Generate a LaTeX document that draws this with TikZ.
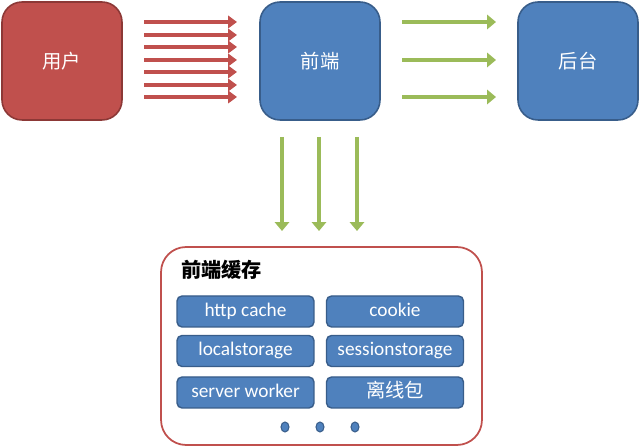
\documentclass[tikz,border=0pt]{standalone}
\usepackage{fontspec}
\setmainfont{Carlito}
\newfontfamily\cjk{Noto Sans CJK SC}
\usetikzlibrary{arrows.meta}
\usetikzlibrary{shapes.geometric}

\definecolor{boxred}{RGB}{192,80,77}
\definecolor{linered}{RGB}{140,56,54}
\definecolor{boxblue}{RGB}{79,129,189}
\definecolor{lineblue}{RGB}{56,93,138}
\definecolor{arrowgreen}{RGB}{155,187,89}

\tikzset{
  bigbox/.style={draw, line width=0.9pt, rounded corners=0.4cm, minimum width=2.4cm, minimum height=2.36cm, text=white, font=\cjk\fontsize{11}{13}\selectfont},
  cachebox/.style={draw=lineblue, fill=boxblue, line width=0.8pt, rounded corners=0.1cm, minimum width=2.74cm, minimum height=0.62cm, inner sep=0pt, text height=1.6ex, text depth=0.45ex, text=white, font=\fontsize{11}{13}\selectfont},
  redarrow/.style={boxred, line width=2.3pt, -{Triangle[length=5pt,width=7pt]}},
  greenarrow/.style={arrowgreen, line width=2.7pt, -{Triangle[length=5pt,width=8pt]}},
  dot/.style={ellipse, draw=lineblue, fill=boxblue, line width=0.6pt, minimum width=0.16cm, minimum height=0.2cm, inner sep=0pt},
}

\begin{document}
\begin{tikzpicture}[x=0.02cm,y=-0.02cm]
\useasboundingbox (0,0) rectangle (640,448);
% top row
\node[bigbox, fill=boxred, draw=linered] (user) at (62,61) {用户};
\node[bigbox, fill=boxblue, draw=lineblue] (front) at (320,61) {前端};
\node[bigbox, fill=boxblue, draw=lineblue] (back) at (578,61) {后台};
% user -> front
\foreach \y [count=\i] in {22,35,47,60,72,85,97} {
  \coordinate (r\i a) at (144,\y);
  \coordinate (r\i b) at (237,\y);
  \draw[redarrow] (r\i a) -- (r\i b);
}
% front -> back
\foreach \y [count=\i] in {22,60,97} {
  \coordinate (g\i a) at (402,\y);
  \coordinate (g\i b) at (496,\y);
  \draw[greenarrow] (g\i a) -- (g\i b);
}
% front -> cache
\foreach \x [count=\i] in {282,319,357} {
  \coordinate (v\i a) at (\x,137);
  \coordinate (v\i b) at (\x,231);
  \draw[greenarrow] (v\i a) -- (v\i b);
}
% cache
\node[draw=boxred, fill=white, line width=1pt, rounded corners=0.5cm, minimum width=6.42cm, minimum height=3.96cm] (cache) at (321.5,346) {};
\node[anchor=west, inner sep=0pt, font=\cjk\bfseries\fontsize{11.5}{13}\selectfont] (title) at (181,270) {前端缓存};
\node[cachebox] (http) at (245.5,311.5) {http cache};
\node[cachebox] (cookie) at (395,311.5) {cookie};
\node[cachebox] (local) at (245.5,351) {localstorage};
\node[cachebox] (session) at (395,351) {sessionstorage};
\node[cachebox] (worker) at (245.5,392.5) {server worker};
\node[cachebox, font=\cjk\fontsize{11}{13}\selectfont] (offline) at (395,392.5) {离线包};
\node[dot] (dot1) at (285,427) {};
\node[dot] (dot2) at (320,427) {};
\node[dot] (dot3) at (355,427) {};
\end{tikzpicture}
\end{document}
